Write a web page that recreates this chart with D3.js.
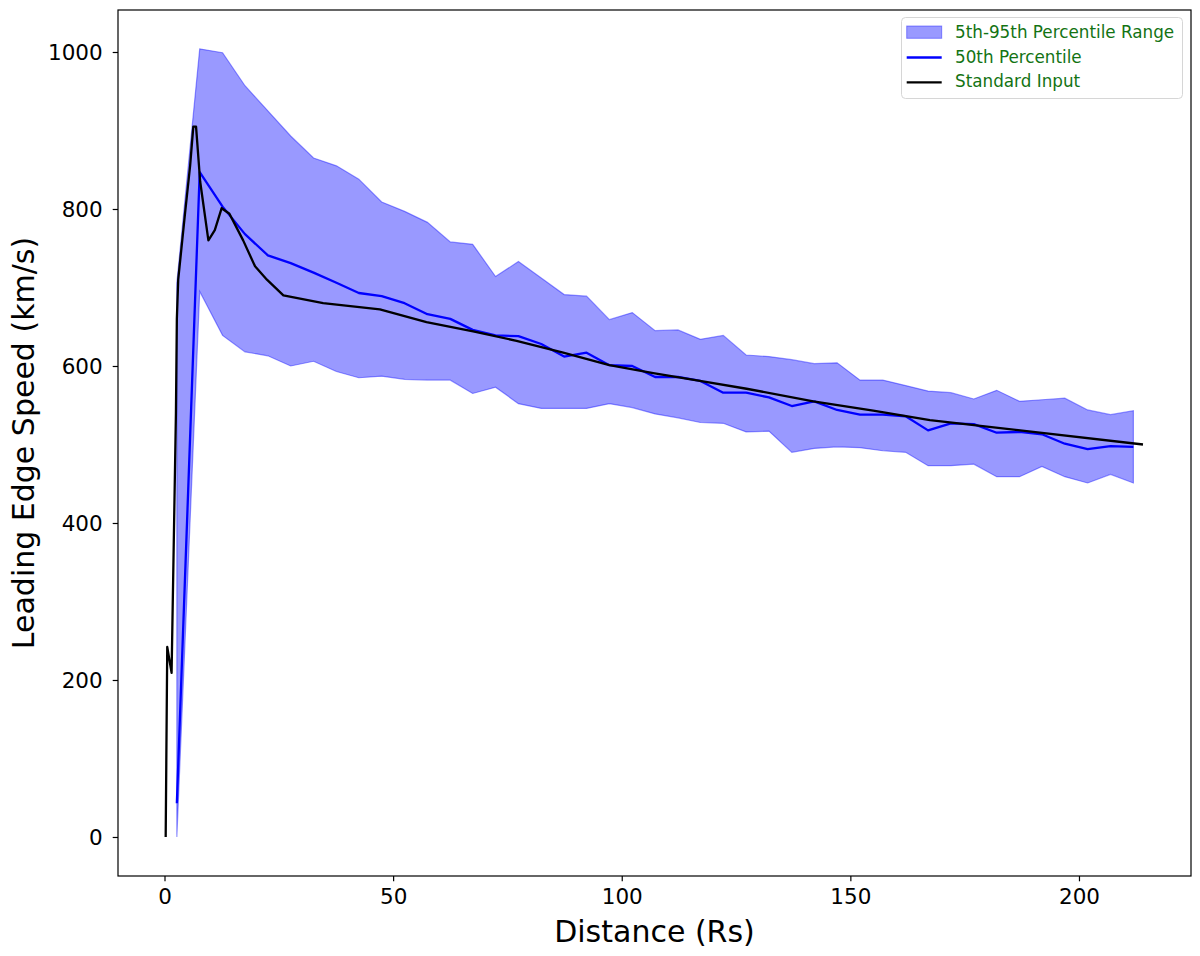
<!DOCTYPE html>
<html>
<head>
<meta charset="utf-8">
<script src="https://cdn.jsdelivr.net/npm/d3@7"></script>
<style>
  body { margin: 0; background: #fff; }
  text { font-family: "DejaVu Sans", sans-serif; }
</style>
</head>
<body>
<div id="chart"></div>
<script>
// percentile run distances (Rs)
var distance = [2.7, 7.7, 12.7, 17.6, 22.6, 27.6, 32.6, 37.6, 42.5, 47.5, 52.5, 57.5, 62.5, 67.4, 72.4,
  77.4, 82.4, 87.4, 92.3, 97.3, 102.3, 107.3, 112.3, 117.2, 122.2, 127.2, 132.2, 137.2, 142.1, 147.1,
  152.1, 157.1, 162.1, 167.0, 172.0, 177.0, 182.0, 187.0, 191.9, 196.9, 201.9, 206.9, 211.9];
var p95 = [706, 1004, 999, 957, 925, 893, 865, 855, 838, 809, 797, 783, 758, 755, 714,
  733, 712, 691, 689, 659, 668, 645, 646, 634, 639, 614, 612, 608, 603, 604,
  582, 582, 575, 568, 566, 558, 569, 555, 557, 559, 544, 538, 543];
var p5 = [0, 695, 639, 618, 613, 600, 606, 593, 585, 587, 583, 582, 582, 565, 573,
  552, 546, 546, 546, 552, 547, 539, 534, 528, 527, 516, 517, 490, 495, 497,
  496, 492, 490, 473, 473, 475, 459, 459, 472, 459, 451, 462, 451];
var p50 = [43, 847, 803, 768, 741, 731, 719, 706, 693, 689, 680, 666, 660, 646, 639,
  638, 628, 612, 617, 601, 600, 586, 586, 581, 566, 566, 560, 549, 555, 544,
  538, 538, 536, 518, 527, 526, 515, 516, 513, 501, 494, 498, 497];

// standard input run
var stdDistance = [0.26, 0.6, 1.55, 2.5, 2.7, 3.0, 4.5, 5.6, 6.3, 6.9, 7.8, 9.6, 11.0, 12.5, 14.2,
  17.2, 19.8, 22.4, 26.0, 34.7, 47.1, 57.3, 67.5, 77.0, 87.2, 97.3, 106.9, 117.1, 127.3, 141.9,
  155.0, 167.4, 190.0, 214.0];
var stdSpeed = [0, 242, 209, 540, 660, 710, 795, 855, 905, 905, 835, 760, 773, 801, 794,
  760, 727, 710, 690, 680, 672, 656, 644, 632, 617, 601, 591, 581, 571, 555,
  543, 531, 516, 500];

var xTicks = [0, 50, 100, 150, 200];
var yTicks = [0, 200, 400, 600, 800, 1000];
var legendLabels = ["5th-95th Percentile Range", "50th Percentile", "Standard Input"];

// set the dimensions of the plot box
var width = 1200, height = 956;
var box = {left: 118, right: 1191, top: 10, bottom: 876};

var svg = d3.select("#chart").append("svg")
  .attr("width", width)
  .attr("height", height);

// set the ranges
var x = d3.scaleLinear().domain([-10.17, 224.5]).range([box.left, box.right]);
var y = d3.scaleLinear().domain([-49.7, 1053.5]).range([box.bottom, box.top]);

var band = distance.map(function(d, i) { return {x: d, lo: p5[i], hi: p95[i]}; });
var median = distance.map(function(d, i) { return {x: d, v: p50[i]}; });
var standard = stdDistance.map(function(d, i) { return {x: d, v: stdSpeed[i]}; });

var area = d3.area()
  .x(function(d) { return x(d.x); })
  .y0(function(d) { return y(d.lo); })
  .y1(function(d) { return y(d.hi); });
var line = d3.line()
  .x(function(d) { return x(d.x); })
  .y(function(d) { return y(d.v); });

var bandFill = "rgba(0,0,255,0.4)";

// percentile band
svg.append("path")
  .datum(band)
  .attr("d", area)
  .attr("fill", bandFill)
  .attr("stroke", bandFill)
  .attr("stroke-width", 1.2);

// 50th percentile
svg.append("path")
  .datum(median)
  .attr("d", line)
  .attr("fill", "none")
  .attr("stroke", "#0000ff")
  .attr("stroke-width", 2.3)
  .attr("stroke-linejoin", "round");

// standard input
svg.append("path")
  .datum(standard)
  .attr("d", line)
  .attr("fill", "none")
  .attr("stroke", "#000")
  .attr("stroke-width", 2.3)
  .attr("stroke-linejoin", "round");

// X axis
var gx = svg.append("g")
  .attr("transform", "translate(0," + box.bottom + ")")
  .call(d3.axisBottom(x).tickValues(xTicks).tickSize(5.3).tickPadding(7).tickFormat(d3.format("d")));
// Y axis
var gy = svg.append("g")
  .attr("transform", "translate(" + box.left + ",0)")
  .call(d3.axisLeft(y).tickValues(yTicks).tickSize(5.3).tickPadding(10).tickFormat(d3.format("d")));

[gx, gy].forEach(function(g) {
  g.select(".domain").remove();
  g.selectAll(".tick line").attr("stroke", "#000").attr("stroke-width", 1.2);
  g.selectAll(".tick text")
    .attr("fill", "#000")
    .style("font-size", "21.5px")
    .style("font-family", "DejaVu Sans, sans-serif");
});
gy.selectAll(".tick text").attr("dy", "0.36em");
gx.selectAll(".tick text").attr("dy", "0.72em");

// frame
svg.append("rect")
  .attr("x", box.left)
  .attr("y", box.top)
  .attr("width", box.right - box.left)
  .attr("height", box.bottom - box.top)
  .attr("fill", "none")
  .attr("stroke", "#000")
  .attr("stroke-width", 1.2);

// axis labels
svg.append("text")
  .attr("x", (box.left + box.right) / 2)
  .attr("y", 942)
  .attr("text-anchor", "middle")
  .style("font-size", "30px")
  .text("Distance (Rs)");

svg.append("text")
  .attr("transform", "translate(33.5," + (box.top + box.bottom) / 2 + ") rotate(-90)")
  .attr("text-anchor", "middle")
  .style("font-size", "30px")
  .text("Leading Edge Speed (km/s)");

// legend
var legend = svg.append("g");
legend.append("rect")
  .attr("x", 901.5).attr("y", 17.5)
  .attr("width", 281).attr("height", 81)
  .attr("rx", 4)
  .attr("fill", "rgba(255,255,255,0.8)")
  .attr("stroke", "#d6d6d6");

legend.append("rect")
  .attr("x", 906.7).attr("y", 26)
  .attr("width", 35).attr("height", 12.3)
  .attr("fill", bandFill)
  .attr("stroke", bandFill);
legend.append("line")
  .attr("x1", 906.7).attr("x2", 941.7)
  .attr("y1", 57.5).attr("y2", 57.5)
  .attr("stroke", "#0000ff").attr("stroke-width", 2.3);
legend.append("line")
  .attr("x1", 906.7).attr("x2", 941.7)
  .attr("y1", 82.3).attr("y2", 82.3)
  .attr("stroke", "#000").attr("stroke-width", 2.3);

legend.selectAll("text.lab")
  .data(legendLabels)
  .enter().append("text")
  .attr("class", "lab")
  .attr("x", 955)
  .attr("y", function(d, i) { return 38.3 + i * 24.5; })
  .attr("fill", "#137313")
  .style("font-size", "16.8px")
  .text(function(d) { return d; });
</script>
</body>
</html>
